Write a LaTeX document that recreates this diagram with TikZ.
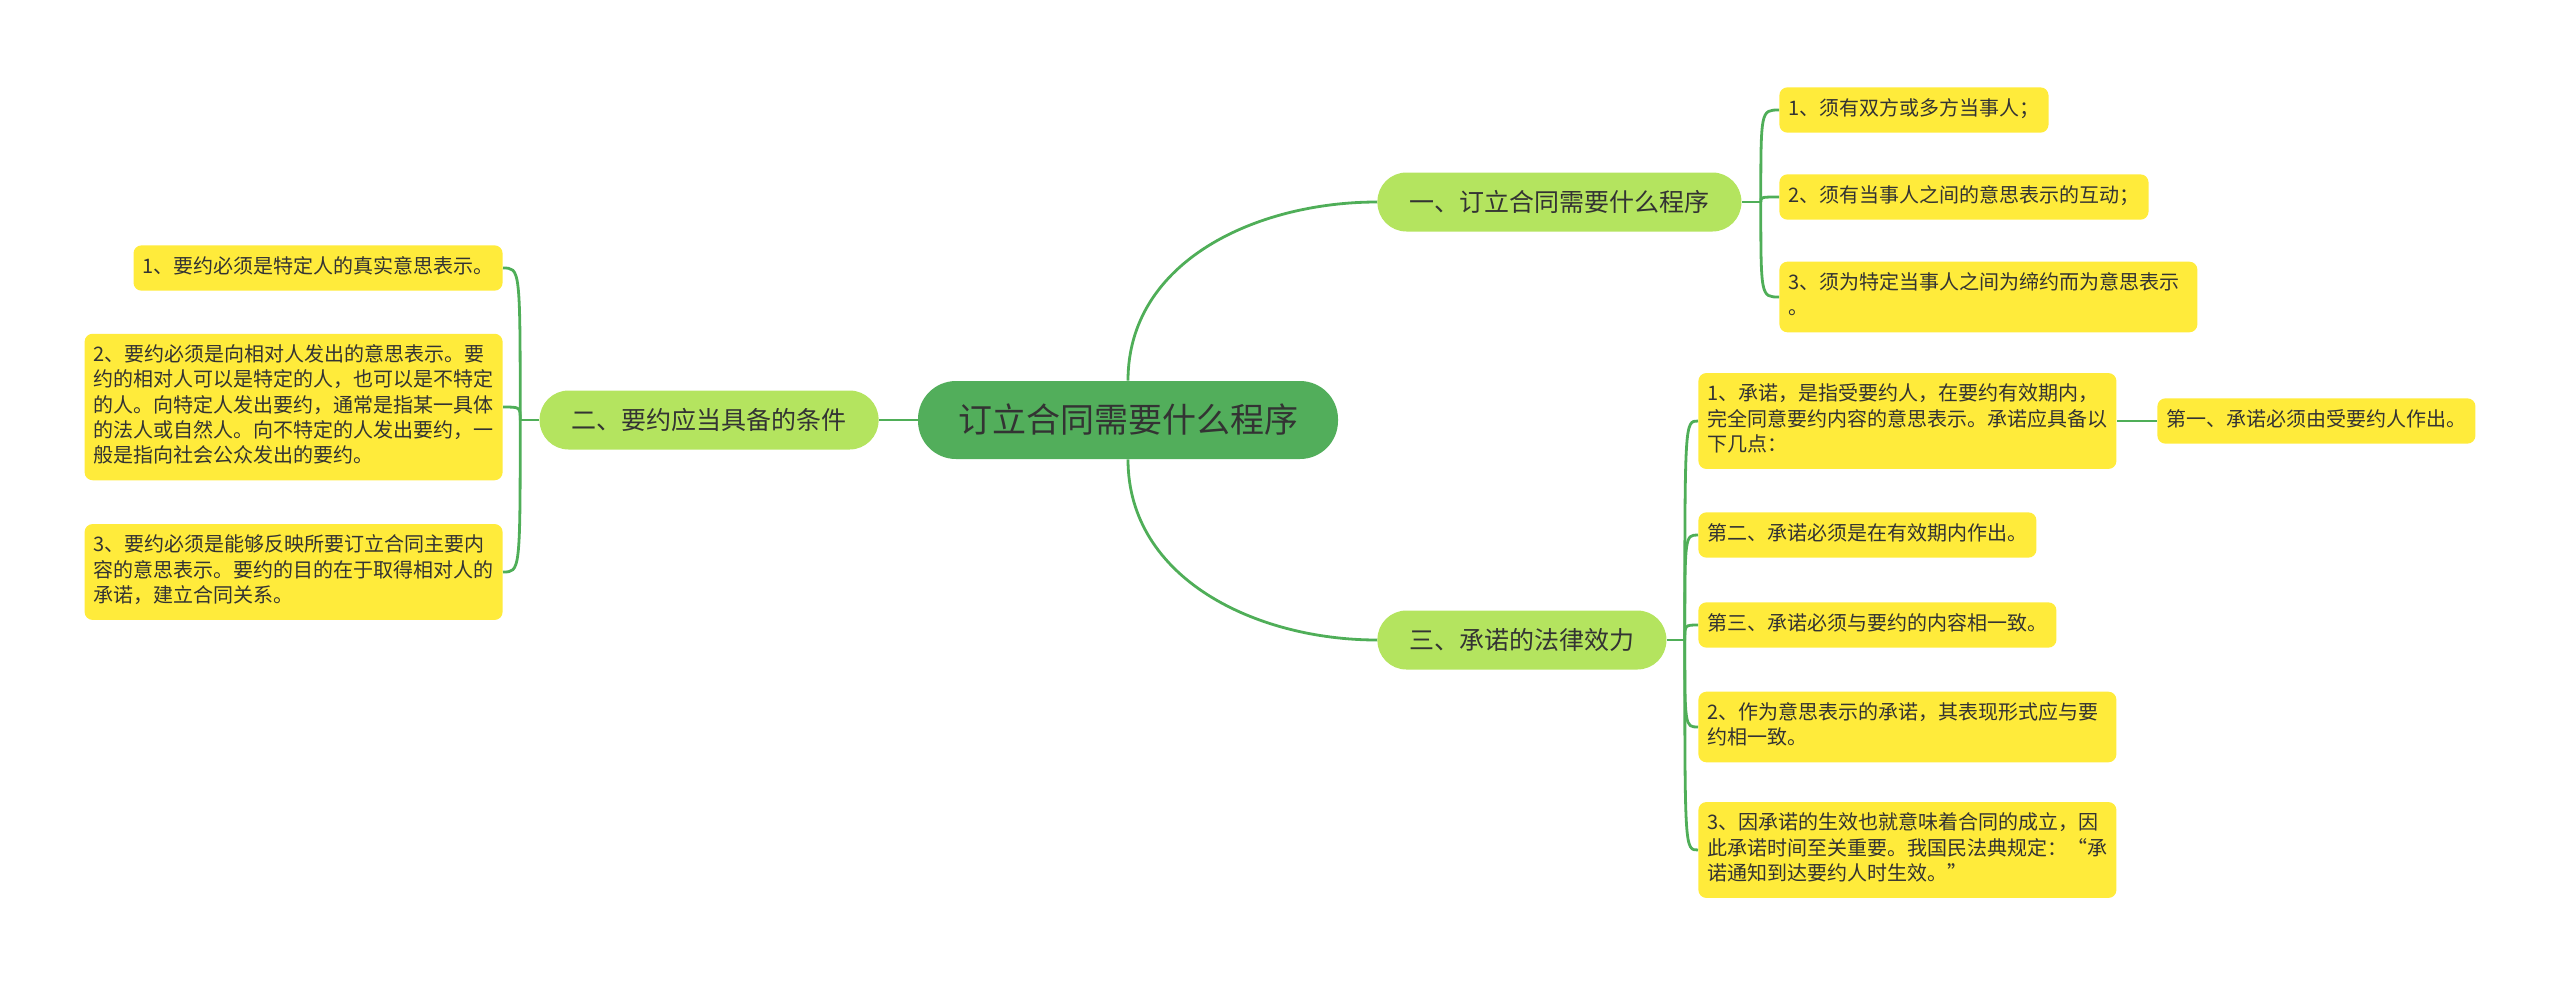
\documentclass[tikz,border=0pt]{standalone}
\usepackage{fontspec}
\setmainfont{Noto Sans CJK SC}
\definecolor{rootgreen}{HTML}{52AE5B}
\definecolor{branchgreen}{HTML}{B4E45F}
\definecolor{leafyellow}{HTML}{FFEB3B}
\definecolor{linegreen}{HTML}{4FAE58}
\definecolor{inkgray}{HTML}{333333}

\begin{document}
\begin{tikzpicture}[x=0.5pt, y=0.5pt,
    rootbox/.style={fill=rootgreen, rounded corners=19pt, minimum height=39pt, inner xsep=20pt, inner ysep=0pt, text=inkgray, font=\fontsize{17pt}{20pt}\selectfont},
    branchbox/.style={fill=branchgreen, rounded corners=14.5pt, minimum height=29.5pt, inner xsep=16pt, inner ysep=0pt, text=inkgray, font=\fontsize{12.5pt}{15pt}\selectfont},
    leafbox/.style={fill=leafyellow, rounded corners=4pt, inner xsep=4.5pt, inner ysep=5pt, align=left, text=inkgray, font=\fontsize{10pt}{12.65pt}\selectfont, execute at begin node=\strut, execute at end node=\strut},
    widebox/.style={text width=200pt},
    link/.style={draw=linegreen, line width=1.4pt}]
    \useasboundingbox (0,0) rectangle (2560,-986);

    % Root node
    \node[rootbox] (root) at (1128,-420) {订立合同需要什么程序};

    % Branch nodes
    \node[branchbox, anchor=west] (b1) at (1377,-202) {一、订立合同需要什么程序};
    \node[branchbox, anchor=east] (b2) at (879,-420) {二、要约应当具备的条件};
    \node[branchbox, anchor=west] (b3) at (1377,-640) {三、承诺的法律效力};

    % Edges
    \draw[link] (root.west) -- (b2.east);
    \draw[link] (root.north) to[out=90,in=180] (b1.west);
    \draw[link] (root.south) to[out=-90,in=180] (b3.west);

    % Leaves of b1
    \node[leafbox, anchor=west] (l1a) at (1779,-110) {1、须有双方或多方当事人；};
    \node[leafbox, anchor=west] (l1b) at (1779,-197) {2、须有当事人之间的意思表示的互动；};
    \node[leafbox, widebox, anchor=west] (l1c) at (1779,-297) {3、须为特定当事人之间为缔约而为意思表示\\。};

    % Edges
    \coordinate (s1) at ([xshift=9.5pt]b1.east);
    \draw[link] (b1.east) -- (s1);
    \draw[link] (s1) .. controls (s1 |- l1a.west) .. (l1a.west);
    \draw[link] (s1) .. controls (s1 |- l1b.west) .. (l1b.west);
    \draw[link] (s1) .. controls (s1 |- l1c.west) .. (l1c.west);

    % Leaves of b2
    \node[leafbox, anchor=east] (l2a) at (503,-268) {1、要约必须是特定人的真实意思表示。};
    \node[leafbox, widebox, anchor=east] (l2b) at (503,-407) {2、要约必须是向相对人发出的意思表示。要\\约的相对人可以是特定的人，也可以是不特定\\的人。向特定人发出要约，通常是指某一具体\\的法人或自然人。向不特定的人发出要约，一\\般是指向社会公众发出的要约。};
    \node[leafbox, widebox, anchor=east] (l2c) at (503,-572) {3、要约必须是能够反映所要订立合同主要内\\容的意思表示。要约的目的在于取得相对人的\\承诺，建立合同关系。};

    % Edges
    \coordinate (s2) at ([xshift=-9.5pt]b2.west);
    \draw[link] (b2.west) -- (s2);
    \draw[link] (s2) .. controls (s2 |- l2a.east) .. (l2a.east);
    \draw[link] (s2) .. controls (s2 |- l2b.east) .. (l2b.east);
    \draw[link] (s2) .. controls (s2 |- l2c.east) .. (l2c.east);

    % Leaves of b3
    \node[leafbox, widebox, anchor=west] (l3a) at (1698,-421) {1、承诺，是指受要约人，在要约有效期内，\\完全同意要约内容的意思表示。承诺应具备以\\下几点：};
    \node[leafbox, anchor=west] (l3a1) at (2157,-421) {第一、承诺必须由受要约人作出。};
    \node[leafbox, anchor=west] (l3b) at (1698,-535) {第二、承诺必须是在有效期内作出。};
    \node[leafbox, anchor=west] (l3c) at (1698,-625) {第三、承诺必须与要约的内容相一致。};
    \node[leafbox, widebox, anchor=west] (l3d) at (1698,-727) {2、作为意思表示的承诺，其表现形式应与要\\约相一致。};
    \node[leafbox, widebox, anchor=west] (l3e) at (1698,-850) {3、因承诺的生效也就意味着合同的成立，因\\此承诺时间至关重要。我国民法典规定：“承\\诺通知到达要约人时生效。”};

    % Edges
    \coordinate (s3) at ([xshift=9pt]b3.east);
    \draw[link] (b3.east) -- (s3);
    \draw[link] (s3) .. controls (s3 |- l3a.west) .. (l3a.west);
    \draw[link] (s3) .. controls (s3 |- l3b.west) .. (l3b.west);
    \draw[link] (s3) .. controls (s3 |- l3c.west) .. (l3c.west);
    \draw[link] (s3) .. controls (s3 |- l3d.west) .. (l3d.west);
    \draw[link] (s3) .. controls (s3 |- l3e.west) .. (l3e.west);
    \draw[link] (l3a.east) -- (l3a1.west);

\end{tikzpicture}
\end{document}
